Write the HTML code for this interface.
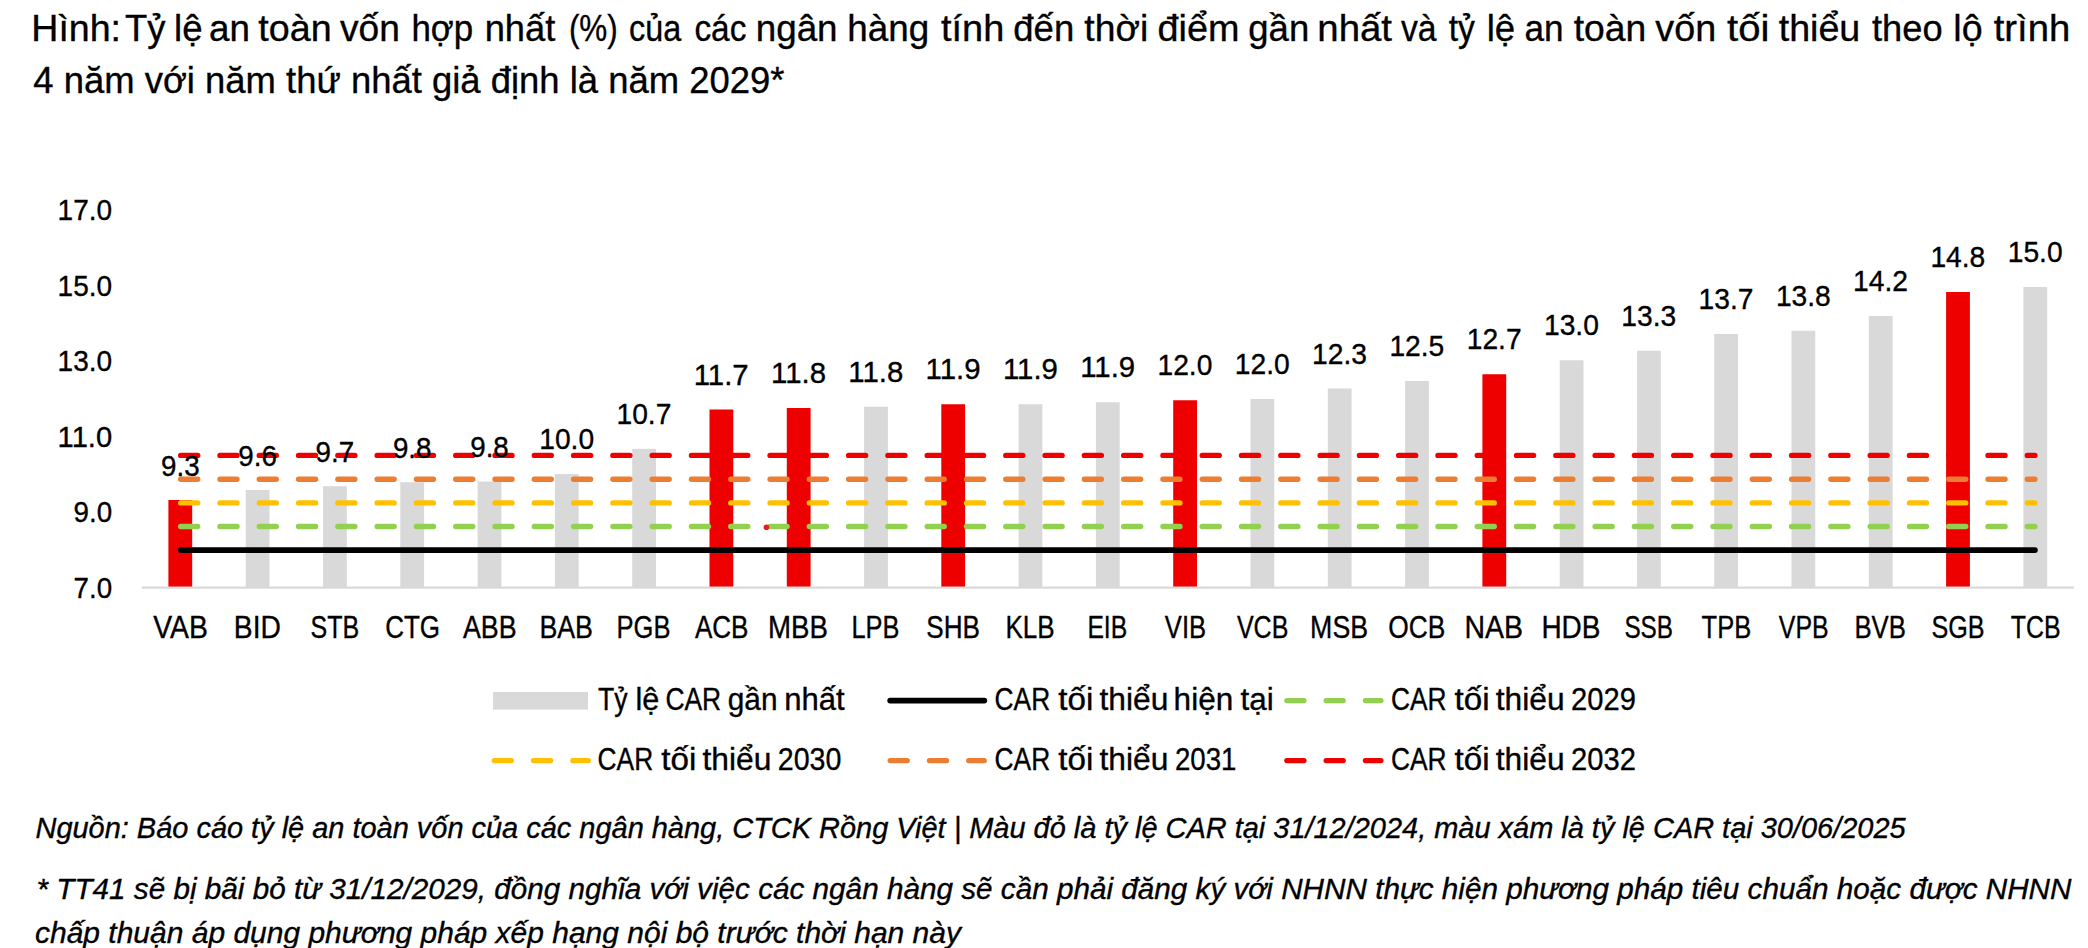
<!DOCTYPE html>
<html lang="vi">
<head>
<meta charset="utf-8">
<title>Tỷ lệ an toàn vốn hợp nhất của các ngân hàng</title>
<style>
html,body{margin:0;padding:0;background:#fff;}
body{width:2088px;height:948px;overflow:hidden;}
svg{display:block;}
text{font-family:"Liberation Sans",sans-serif;fill:#000;stroke:#000;stroke-width:0.35px;}
.t{font-size:37px;}
.s{font-size:31px;}
.n{font-size:30px;}
.i{font-size:29px;font-style:italic;}
</style>
</head>
<body>
<svg width="2088" height="948" viewBox="0 0 2088 948">
<rect x="0" y="0" width="2088" height="948" fill="#ffffff"/>
<text class="t" y="41.3"><tspan x="31.3" textLength="89.7" lengthAdjust="spacingAndGlyphs">Hình:</tspan> <tspan x="125.0" textLength="40.5" lengthAdjust="spacingAndGlyphs">Tỷ</tspan> <tspan x="174.0" textLength="28.5" lengthAdjust="spacingAndGlyphs">lệ</tspan> <tspan x="209.0" textLength="40.9" lengthAdjust="spacingAndGlyphs">an</tspan> <tspan x="258.3" textLength="73.3" lengthAdjust="spacingAndGlyphs">toàn</tspan> <tspan x="340.0" textLength="59.9" lengthAdjust="spacingAndGlyphs">vốn</tspan> <tspan x="411.4" textLength="61.8" lengthAdjust="spacingAndGlyphs">hợp</tspan> <tspan x="484.7" textLength="70.6" lengthAdjust="spacingAndGlyphs">nhất</tspan> <tspan x="568.9" textLength="48.9" lengthAdjust="spacingAndGlyphs">(%)</tspan> <tspan x="629.1" textLength="52.2" lengthAdjust="spacingAndGlyphs">của</tspan> <tspan x="694.4" textLength="52.0" lengthAdjust="spacingAndGlyphs">các</tspan> <tspan x="755.7" textLength="81.9" lengthAdjust="spacingAndGlyphs">ngân</tspan> <tspan x="847.3" textLength="81.9" lengthAdjust="spacingAndGlyphs">hàng</tspan> <tspan x="941.0" textLength="63.3" lengthAdjust="spacingAndGlyphs">tính</tspan> <tspan x="1013.3" textLength="60.9" lengthAdjust="spacingAndGlyphs">đến</tspan> <tspan x="1084.3" textLength="63.9" lengthAdjust="spacingAndGlyphs">thời</tspan> <tspan x="1157.6" textLength="81.9" lengthAdjust="spacingAndGlyphs">điểm</tspan> <tspan x="1248.3" textLength="60.9" lengthAdjust="spacingAndGlyphs">gần</tspan> <tspan x="1317.3" textLength="74.7" lengthAdjust="spacingAndGlyphs">nhất</tspan> <tspan x="1401.0" textLength="35.6" lengthAdjust="spacingAndGlyphs">và</tspan> <tspan x="1448.7" textLength="26.2" lengthAdjust="spacingAndGlyphs">tỷ</tspan> <tspan x="1486.7" textLength="28.5" lengthAdjust="spacingAndGlyphs">lệ</tspan> <tspan x="1524.4" textLength="39.1" lengthAdjust="spacingAndGlyphs">an</tspan> <tspan x="1573.7" textLength="72.6" lengthAdjust="spacingAndGlyphs">toàn</tspan> <tspan x="1655.3" textLength="60.9" lengthAdjust="spacingAndGlyphs">vốn</tspan> <tspan x="1727.0" textLength="42.4" lengthAdjust="spacingAndGlyphs">tối</tspan> <tspan x="1778.7" textLength="81.6" lengthAdjust="spacingAndGlyphs">thiểu</tspan> <tspan x="1872.0" textLength="70.6" lengthAdjust="spacingAndGlyphs">theo</tspan> <tspan x="1953.3" textLength="29.3" lengthAdjust="spacingAndGlyphs">lộ</tspan> <tspan x="1993.7" textLength="76.6" lengthAdjust="spacingAndGlyphs">trình</tspan></text>
<text class="t" x="33.3" y="93.3" textLength="751.1" lengthAdjust="spacingAndGlyphs">4 năm với năm thứ nhất giả định là năm 2029*</text>
<text class="n" x="73.6" y="597.6" textLength="38.6" lengthAdjust="spacingAndGlyphs">7.0</text>
<text class="n" x="73.6" y="522.1" textLength="38.6" lengthAdjust="spacingAndGlyphs">9.0</text>
<text class="n" x="57.6" y="446.7" textLength="54.6" lengthAdjust="spacingAndGlyphs">11.0</text>
<text class="n" x="57.6" y="371.2" textLength="54.5" lengthAdjust="spacingAndGlyphs">13.0</text>
<text class="n" x="57.6" y="295.8" textLength="54.5" lengthAdjust="spacingAndGlyphs">15.0</text>
<text class="n" x="57.6" y="220.3" textLength="54.5" lengthAdjust="spacingAndGlyphs">17.0</text>
<rect x="168.4" y="500" width="23.8" height="87.00" fill="#EE0000"/>
<rect x="245.7" y="490" width="23.8" height="97.00" fill="#D9D9D9"/>
<rect x="323.0" y="486.2" width="23.8" height="100.80" fill="#D9D9D9"/>
<rect x="400.3" y="482.2" width="23.8" height="104.80" fill="#D9D9D9"/>
<rect x="477.6" y="481.5" width="23.8" height="105.50" fill="#D9D9D9"/>
<rect x="554.9" y="474.1" width="23.8" height="112.90" fill="#D9D9D9"/>
<rect x="632.2" y="448.9" width="23.8" height="138.10" fill="#D9D9D9"/>
<rect x="709.5" y="409.5" width="23.8" height="177.50" fill="#EE0000"/>
<rect x="786.8" y="408" width="23.8" height="179.00" fill="#EE0000"/>
<rect x="864.1" y="406.75" width="23.8" height="180.25" fill="#D9D9D9"/>
<rect x="941.3" y="404.25" width="23.8" height="182.75" fill="#EE0000"/>
<rect x="1018.6" y="404.25" width="23.8" height="182.75" fill="#D9D9D9"/>
<rect x="1095.9" y="402.25" width="23.8" height="184.75" fill="#D9D9D9"/>
<rect x="1173.2" y="400.25" width="23.8" height="186.75" fill="#EE0000"/>
<rect x="1250.5" y="399" width="23.8" height="188.00" fill="#D9D9D9"/>
<rect x="1327.8" y="388.5" width="23.8" height="198.50" fill="#D9D9D9"/>
<rect x="1405.1" y="381" width="23.8" height="206.00" fill="#D9D9D9"/>
<rect x="1482.4" y="374.25" width="23.8" height="212.75" fill="#EE0000"/>
<rect x="1559.7" y="360.25" width="23.8" height="226.75" fill="#D9D9D9"/>
<rect x="1637.0" y="350.75" width="23.8" height="236.25" fill="#D9D9D9"/>
<rect x="1714.2" y="334" width="23.8" height="253.00" fill="#D9D9D9"/>
<rect x="1791.5" y="330.75" width="23.8" height="256.25" fill="#D9D9D9"/>
<rect x="1868.8" y="316" width="23.8" height="271.00" fill="#D9D9D9"/>
<rect x="1946.1" y="292" width="23.8" height="295.00" fill="#EE0000"/>
<rect x="2023.4" y="287" width="23.8" height="300.00" fill="#D9D9D9"/>
<rect x="141.7" y="586.5" width="1932.3" height="2.2" fill="#D9D9D9"/>
<g fill="none" stroke-linecap="round" stroke-width="5.4">
<line x1="180.7" y1="550.1" x2="2034.9" y2="550.1" stroke="#000" stroke-width="5.8"/>
<line x1="180.7" y1="526.5" x2="2034.9" y2="526.5" stroke="#92D050" stroke-dasharray="17 22.29"/>
<line x1="180.7" y1="502.9" x2="2034.9" y2="502.9" stroke="#FFC000" stroke-dasharray="17 22.29"/>
<line x1="180.7" y1="479.2" x2="2034.9" y2="479.2" stroke="#ED7D31" stroke-dasharray="17 22.29"/>
<line x1="180.7" y1="455.4" x2="2034.9" y2="455.4" stroke="#EE0000" stroke-dasharray="17 22.29"/>
</g>
<circle cx="766.4" cy="527.3" r="2.8" fill="#E61E1E"/>
<text class="n" x="161.0" y="475.7" textLength="38.6" lengthAdjust="spacingAndGlyphs">9.3</text>
<text class="n" x="238.3" y="465.7" textLength="38.6" lengthAdjust="spacingAndGlyphs">9.6</text>
<text class="n" x="315.6" y="461.9" textLength="38.6" lengthAdjust="spacingAndGlyphs">9.7</text>
<text class="n" x="392.9" y="457.9" textLength="38.6" lengthAdjust="spacingAndGlyphs">9.8</text>
<text class="n" x="470.2" y="457.2" textLength="38.6" lengthAdjust="spacingAndGlyphs">9.8</text>
<text class="n" x="539.2" y="449.1" textLength="54.9" lengthAdjust="spacingAndGlyphs">10.0</text>
<text class="n" x="616.5" y="423.9" textLength="54.9" lengthAdjust="spacingAndGlyphs">10.7</text>
<text class="n" x="693.7" y="384.5" textLength="55.0" lengthAdjust="spacingAndGlyphs">11.7</text>
<text class="n" x="771.0" y="383.0" textLength="55.0" lengthAdjust="spacingAndGlyphs">11.8</text>
<text class="n" x="848.3" y="381.8" textLength="55.0" lengthAdjust="spacingAndGlyphs">11.8</text>
<text class="n" x="925.6" y="379.2" textLength="55.0" lengthAdjust="spacingAndGlyphs">11.9</text>
<text class="n" x="1002.9" y="379.2" textLength="55.0" lengthAdjust="spacingAndGlyphs">11.9</text>
<text class="n" x="1080.2" y="377.2" textLength="55.0" lengthAdjust="spacingAndGlyphs">11.9</text>
<text class="n" x="1157.5" y="375.2" textLength="54.9" lengthAdjust="spacingAndGlyphs">12.0</text>
<text class="n" x="1234.8" y="374.0" textLength="54.9" lengthAdjust="spacingAndGlyphs">12.0</text>
<text class="n" x="1312.1" y="363.5" textLength="54.9" lengthAdjust="spacingAndGlyphs">12.3</text>
<text class="n" x="1389.4" y="356.0" textLength="54.9" lengthAdjust="spacingAndGlyphs">12.5</text>
<text class="n" x="1466.7" y="349.2" textLength="54.9" lengthAdjust="spacingAndGlyphs">12.7</text>
<text class="n" x="1544.0" y="335.2" textLength="54.9" lengthAdjust="spacingAndGlyphs">13.0</text>
<text class="n" x="1621.3" y="325.8" textLength="54.9" lengthAdjust="spacingAndGlyphs">13.3</text>
<text class="n" x="1698.6" y="309.0" textLength="54.9" lengthAdjust="spacingAndGlyphs">13.7</text>
<text class="n" x="1775.9" y="305.8" textLength="54.9" lengthAdjust="spacingAndGlyphs">13.8</text>
<text class="n" x="1853.1" y="291.0" textLength="54.9" lengthAdjust="spacingAndGlyphs">14.2</text>
<text class="n" x="1930.4" y="267.0" textLength="54.9" lengthAdjust="spacingAndGlyphs">14.8</text>
<text class="n" x="2007.7" y="262.0" textLength="54.9" lengthAdjust="spacingAndGlyphs">15.0</text>
<text class="s" x="153.3" y="638.3" textLength="54.6" lengthAdjust="spacingAndGlyphs">VAB</text>
<text class="s" x="233.8" y="638.3" textLength="47.1" lengthAdjust="spacingAndGlyphs">BID</text>
<text class="s" x="310.5" y="638.3" textLength="48.7" lengthAdjust="spacingAndGlyphs">STB</text>
<text class="s" x="385.2" y="638.3" textLength="54.9" lengthAdjust="spacingAndGlyphs">CTG</text>
<text class="s" x="463.0" y="638.3" textLength="53.6" lengthAdjust="spacingAndGlyphs">ABB</text>
<text class="s" x="539.4" y="638.3" textLength="53.6" lengthAdjust="spacingAndGlyphs">BAB</text>
<text class="s" x="616.6" y="638.3" textLength="53.9" lengthAdjust="spacingAndGlyphs">PGB</text>
<text class="s" x="694.9" y="638.3" textLength="53.6" lengthAdjust="spacingAndGlyphs">ACB</text>
<text class="s" x="768.1" y="638.3" textLength="59.9" lengthAdjust="spacingAndGlyphs">MBB</text>
<text class="s" x="851.5" y="638.3" textLength="47.9" lengthAdjust="spacingAndGlyphs">LPB</text>
<text class="s" x="926.3" y="638.3" textLength="53.7" lengthAdjust="spacingAndGlyphs">SHB</text>
<text class="s" x="1005.4" y="638.3" textLength="49.2" lengthAdjust="spacingAndGlyphs">KLB</text>
<text class="s" x="1087.4" y="638.3" textLength="39.8" lengthAdjust="spacingAndGlyphs">EIB</text>
<text class="s" x="1164.8" y="638.3" textLength="41.3" lengthAdjust="spacingAndGlyphs">VIB</text>
<text class="s" x="1236.9" y="638.3" textLength="51.5" lengthAdjust="spacingAndGlyphs">VCB</text>
<text class="s" x="1310.1" y="638.3" textLength="58.0" lengthAdjust="spacingAndGlyphs">MSB</text>
<text class="s" x="1388.3" y="638.3" textLength="57.1" lengthAdjust="spacingAndGlyphs">OCB</text>
<text class="s" x="1464.4" y="638.3" textLength="58.5" lengthAdjust="spacingAndGlyphs">NAB</text>
<text class="s" x="1541.4" y="638.3" textLength="59.1" lengthAdjust="spacingAndGlyphs">HDB</text>
<text class="s" x="1624.4" y="638.3" textLength="48.6" lengthAdjust="spacingAndGlyphs">SSB</text>
<text class="s" x="1701.6" y="638.3" textLength="49.6" lengthAdjust="spacingAndGlyphs">TPB</text>
<text class="s" x="1778.8" y="638.3" textLength="49.8" lengthAdjust="spacingAndGlyphs">VPB</text>
<text class="s" x="1854.4" y="638.3" textLength="51.5" lengthAdjust="spacingAndGlyphs">BVB</text>
<text class="s" x="1931.4" y="638.3" textLength="53.1" lengthAdjust="spacingAndGlyphs">SGB</text>
<text class="s" x="2010.7" y="638.3" textLength="49.8" lengthAdjust="spacingAndGlyphs">TCB</text>
<rect x="493" y="692" width="95" height="17.6" fill="#D9D9D9"/>
<g fill="none" stroke-linecap="round" stroke-width="5.4">
<line x1="890.2" y1="700.6" x2="984.3" y2="700.6" stroke="#000" stroke-width="5.8"/>
<line x1="1286.9" y1="700.6" x2="1380.9" y2="700.6" stroke="#92D050" stroke-dasharray="17 22.29"/>
<line x1="494.3" y1="760.6" x2="588.3" y2="760.6" stroke="#FFC000" stroke-dasharray="17 22.29"/>
<line x1="890.2" y1="760.6" x2="984.2" y2="760.6" stroke="#ED7D31" stroke-dasharray="17 22.29"/>
<line x1="1286.9" y1="760.6" x2="1380.9" y2="760.6" stroke="#EE0000" stroke-dasharray="17 22.29"/>
</g>
<text class="s" y="709.8"><tspan x="598.1" textLength="29.6" lengthAdjust="spacingAndGlyphs">Tỷ</tspan> <tspan x="635.5" textLength="23.8" lengthAdjust="spacingAndGlyphs">lệ</tspan> <tspan x="665.4" textLength="55.8" lengthAdjust="spacingAndGlyphs">CAR</tspan> <tspan x="727.8" textLength="49.7" lengthAdjust="spacingAndGlyphs">gần</tspan> <tspan x="784.2" textLength="60.4" lengthAdjust="spacingAndGlyphs">nhất</tspan></text>
<text class="s" y="709.8"><tspan x="994.6" textLength="55.6" lengthAdjust="spacingAndGlyphs">CAR</tspan> <tspan x="1058.2" textLength="35.1" lengthAdjust="spacingAndGlyphs">tối</tspan> <tspan x="1099.5" textLength="68.8" lengthAdjust="spacingAndGlyphs">thiểu</tspan> <tspan x="1173.6" textLength="59.6" lengthAdjust="spacingAndGlyphs">hiện</tspan> <tspan x="1240.6" textLength="33.2" lengthAdjust="spacingAndGlyphs">tại</tspan></text>
<text class="s" y="709.8"><tspan x="1390.9" textLength="55.6" lengthAdjust="spacingAndGlyphs">CAR</tspan> <tspan x="1454.5" textLength="35.1" lengthAdjust="spacingAndGlyphs">tối</tspan> <tspan x="1495.8" textLength="68.8" lengthAdjust="spacingAndGlyphs">thiểu</tspan> <tspan x="1571.1" textLength="64.8" lengthAdjust="spacingAndGlyphs">2029</tspan></text>
<text class="s" y="769.6"><tspan x="597.6" textLength="55.6" lengthAdjust="spacingAndGlyphs">CAR</tspan> <tspan x="661.2" textLength="35.1" lengthAdjust="spacingAndGlyphs">tối</tspan> <tspan x="702.5" textLength="68.8" lengthAdjust="spacingAndGlyphs">thiểu</tspan> <tspan x="777.8" textLength="63.6" lengthAdjust="spacingAndGlyphs">2030</tspan></text>
<text class="s" y="769.6"><tspan x="994.6" textLength="55.6" lengthAdjust="spacingAndGlyphs">CAR</tspan> <tspan x="1058.2" textLength="35.1" lengthAdjust="spacingAndGlyphs">tối</tspan> <tspan x="1099.5" textLength="68.8" lengthAdjust="spacingAndGlyphs">thiểu</tspan> <tspan x="1174.9" textLength="61.5" lengthAdjust="spacingAndGlyphs">2031</tspan></text>
<text class="s" y="769.6"><tspan x="1390.9" textLength="55.6" lengthAdjust="spacingAndGlyphs">CAR</tspan> <tspan x="1454.5" textLength="35.1" lengthAdjust="spacingAndGlyphs">tối</tspan> <tspan x="1495.8" textLength="68.8" lengthAdjust="spacingAndGlyphs">thiểu</tspan> <tspan x="1571.1" textLength="64.8" lengthAdjust="spacingAndGlyphs">2032</tspan></text>
<text class="i" x="35.5" y="838" textLength="1870.1" lengthAdjust="spacingAndGlyphs">Nguồn: Báo cáo tỷ lệ an toàn vốn của các ngân hàng, CTCK Rồng Việt | Màu đỏ là tỷ lệ CAR tại 31/12/2024, màu xám là tỷ lệ CAR tại 30/06/2025</text>
<text class="i" x="36.5" y="898.7" textLength="2035.0" lengthAdjust="spacingAndGlyphs">* TT41 sẽ bị bãi bỏ từ 31/12/2029, đồng nghĩa với việc các ngân hàng sẽ cần phải đăng ký với NHNN thực hiện phương pháp tiêu chuẩn hoặc được NHNN</text>
<text class="i" x="35.0" y="942.5" textLength="925.9" lengthAdjust="spacingAndGlyphs">chấp thuận áp dụng phương pháp xếp hạng nội bộ trước thời hạn này</text>
</svg>
</body>
</html>
